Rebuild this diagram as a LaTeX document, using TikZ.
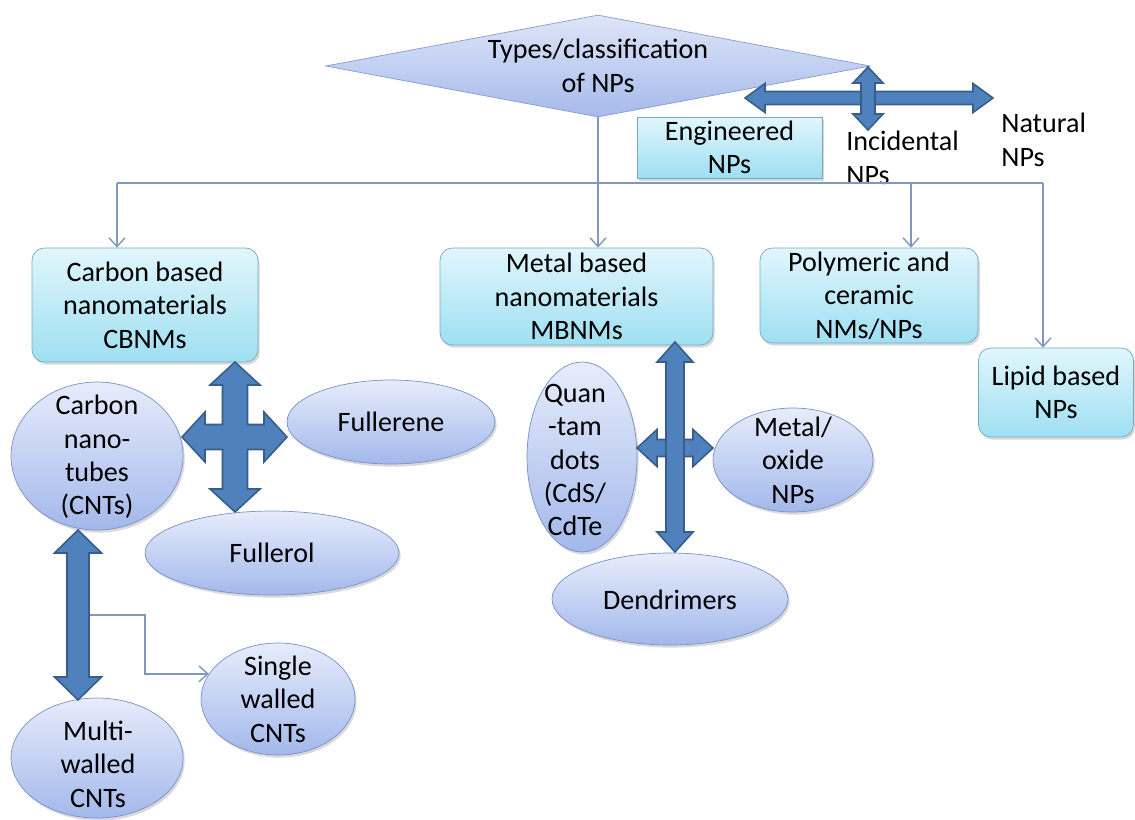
\documentclass[tikz,border=0pt]{standalone}
\usepackage{fontspec}
\setmainfont{Carlito}
\usetikzlibrary{shapes.geometric,arrows.meta,shadows}

\newcommand{\crossarrow}[9]{%
\filldraw[bigarrow] (#1,#5) -- ({#1+#8},{#5+#9}) -- ({#1+#7},{#5+#9}) -- ({#1+#7},{#2-#7}) -- ({#4-#9},{#2-#7}) -- ({#4-#9},{#2-#8}) -- (#4,#2) -- ({#4-#9},{#2+#8}) -- ({#4-#9},{#2+#7}) -- ({#1+#7},{#2+#7}) -- ({#1+#7},{#6-#9}) -- ({#1+#8},{#6-#9}) -- (#1,#6) -- ({#1-#8},{#6-#9}) -- ({#1-#7},{#6-#9}) -- ({#1-#7},{#2+#7}) -- ({#3+#9},{#2+#7}) -- ({#3+#9},{#2+#8}) -- (#3,#2) -- ({#3+#9},{#2-#8}) -- ({#3+#9},{#2-#7}) -- ({#1-#7},{#2-#7}) -- ({#1-#7},{#5+#9}) -- ({#1-#8},{#5+#9}) -- cycle;}
\newcommand{\vdoublearrow}[6]{%
\filldraw[bigarrow] (#1,#2) -- ({#1+#5},{#2+#6}) -- ({#1+#4},{#2+#6}) -- ({#1+#4},{#3-#6}) -- ({#1+#5},{#3-#6}) -- (#1,#3) -- ({#1-#5},{#3-#6}) -- ({#1-#4},{#3-#6}) -- ({#1-#4},{#2+#6}) -- ({#1-#5},{#2+#6}) -- cycle;}
\newcommand{\hdoublearrow}[6]{%
\filldraw[bigarrow] (#2,#1) -- ({#2+#6},{#1-#5}) -- ({#2+#6},{#1-#4}) -- ({#3-#6},{#1-#4}) -- ({#3-#6},{#1-#5}) -- (#3,#1) -- ({#3-#6},{#1+#5}) -- ({#3-#6},{#1+#4}) -- ({#2+#6},{#1+#4}) -- ({#2+#6},{#1+#5}) -- cycle;}

\begin{document}
\begin{tikzpicture}[x=0.02cm,y=-0.02cm,
  font=\fontsize{16pt}{19pt}\selectfont,
  choice/.style={shape=diamond,aspect=5.3,inner sep=0pt,minimum width=10.9cm,minimum height=2.04cm,draw=diamondline,top color=diamondtop,bottom color=diamondbottom,align=center},
  plate/.style={rectangle,inner sep=1pt,draw=boxline,top color=boxtop,bottom color=boxbottom,align=center,drop shadow={shadow xshift=1pt,shadow yshift=-1.5pt,opacity=0.3}},
  group/.style={plate,rounded corners=7pt},
  blob/.style={ellipse,inner sep=0pt,draw=blobline,top color=blobtop,bottom color=blobbottom,drop shadow={shadow xshift=1pt,shadow yshift=-1.5pt,opacity=0.3}},
  txt/.style={align=center,inner sep=0pt},
  note/.style={align=left,inner sep=0pt,anchor=west},
  wire/.style={draw=linkcolor,line width=0.8pt},
  link/.style={wire,-{Straight Barb[length=5pt,width=9pt]}},
  bigarrow/.style={fill=arrowfill,draw=arrowline,line width=0.9pt,line join=miter}]
\definecolor{diamondtop}{RGB}{222,229,248}
\definecolor{diamondbottom}{RGB}{166,186,234}
\definecolor{diamondline}{RGB}{135,155,205}
\definecolor{boxtop}{RGB}{225,246,252}
\definecolor{boxbottom}{RGB}{158,223,242}
\definecolor{boxline}{RGB}{115,170,192}
\definecolor{blobtop}{RGB}{230,236,251}
\definecolor{blobbottom}{RGB}{163,184,235}
\definecolor{blobline}{RGB}{120,145,200}
\definecolor{linkcolor}{RGB}{128,152,192}
\definecolor{arrowfill}{RGB}{79,129,189}
\definecolor{arrowline}{RGB}{56,93,138}
\useasboundingbox (0,0) rectangle (1135,819);

\coordinate (busl) at (117,183);
\coordinate (busp) at (911,183);
\coordinate (busr) at (1043,183);
\coordinate (tap) at (90,615);

\node[choice] (types) at (598,66) {Types/classification\\of NPs};
\node[plate,minimum width=3.7cm,minimum height=1.22cm] (engineered) at (729.5,147.5) {Engineered\\NPs};
\node[note] (incidental) at (846,158) {Incidental\\NPs};
\node[note] (natural) at (1001,140) {Natural\\NPs};

\node[group,minimum width=4.52cm,minimum height=2.28cm] (carbon) at (145,305) {Carbon based\\nanomaterials\\CBNMs};
\node[group,minimum width=5.46cm,minimum height=1.94cm] (metal) at (576.5,296.5) {Metal based\\nanomaterials\\MBNMs};
\node[group,minimum width=4.36cm,minimum height=1.9cm] (polymeric) at (869,295.5) {Polymeric and\\ceramic\\NMs/NPs};
\node[group,minimum width=3.1cm,minimum height=1.78cm] (lipid) at (1056,392.5) {Lipid based\\NPs};

\node[blob,minimum width=3.44cm,minimum height=2.96cm] (cnt) at (97,456) {};
\node[txt] (cnt-t) at (97,457) {Carbon\\nano-\\tubes\\(CNTs)};
\node[blob,minimum width=4.16cm,minimum height=1.68cm] (fullerene) at (391,422) {};
\node[txt] (fullerene-t) at (fullerene) {Fullerene};
\node[blob,minimum width=5.08cm,minimum height=1.68cm] (fullerol) at (272,553) {};
\node[txt] (fullerol-t) at (fullerol) {Fullerol};
\node[blob,minimum width=3.08cm,minimum height=2.24cm] (single) at (278,699) {};
\node[txt] (single-t) at (single) {Single\\walled\\CNTs};
\node[blob,minimum width=3.44cm,minimum height=2.4cm] (multi) at (97,758) {};
\node[txt] (multi-t) at (98,764) {Multi-\\walled\\CNTs};

\node[blob,minimum width=2.2cm,minimum height=3.8cm] (quantum) at (582,457) {};
\node[txt] (quantum-t) at (575,460) {Quan\\-tam\\dots\\(CdS/\\CdTe};
\node[blob,minimum width=3.2cm,minimum height=2.08cm] (oxide) at (793,460) {};
\node[txt] (oxide-t) at (oxide) {Metal/\\oxide\\NPs};
\node[blob,minimum width=4.72cm,minimum height=1.84cm] (dendrimers) at (670,599) {};
\node[txt] (dendrimers-t) at (670,600) {Dendrimers};

\draw[link] (types.south) -- (types.south |- metal.north);
\draw[wire] (busl) -- (busr);
\draw[link] (busl) -- (busl |- carbon.north);
\draw[link] (busp) -- (busp |- polymeric.north);
\draw[link] (busr) -- (busr |- lipid.north);
\draw[link] (tap) -- ++(55,0) |- (single.160);

\hdoublearrow{98}{745}{993}{6.5}{14.5}{20}
\vdoublearrow{868}{67}{130}{7}{15}{16}
\crossarrow{235}{437}{182}{287}{362}{512}{12.5}{25}{23}
\hdoublearrow{448}{637}{713}{8.5}{18.5}{20}
\vdoublearrow{675}{342}{552}{9}{18}{20}
\vdoublearrow{78}{530}{700}{11}{23.5}{23}
\end{tikzpicture}
\end{document}
